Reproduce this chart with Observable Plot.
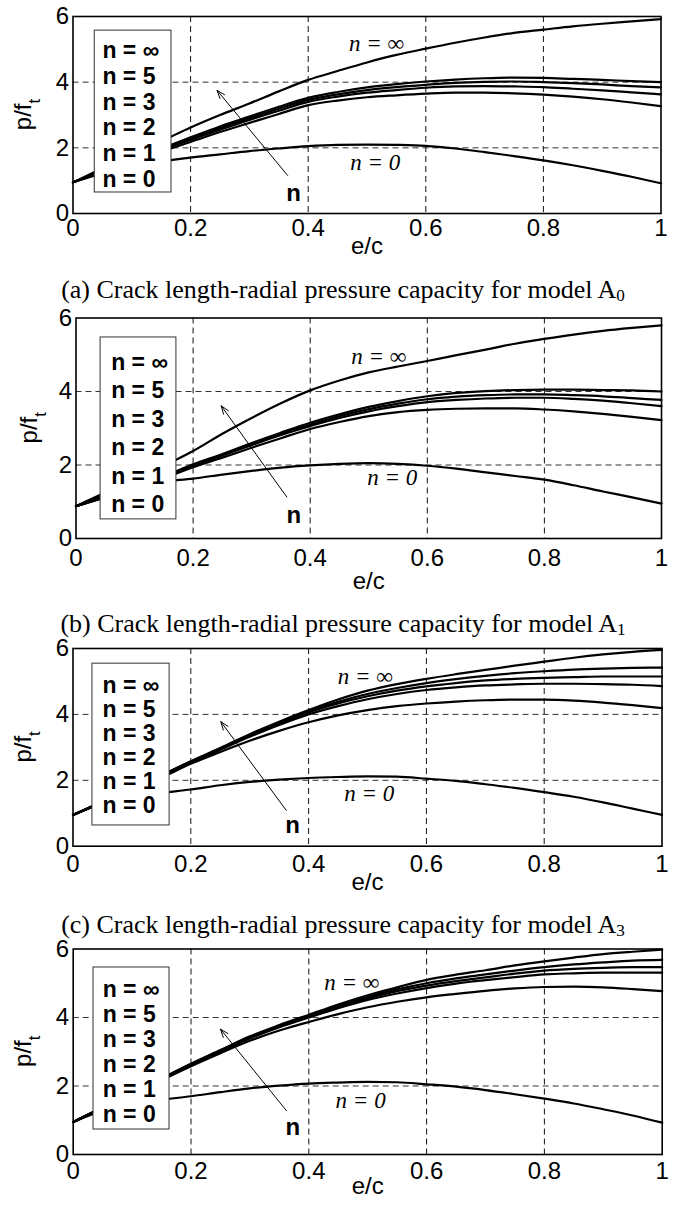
<!DOCTYPE html>
<html><head><meta charset="utf-8">
<script src="https://cdn.jsdelivr.net/npm/d3@7"></script>
<script src="https://cdn.jsdelivr.net/npm/@observablehq/plot@0.6"></script>
<style>
body{margin:0;background:#fff;}
#wrap{position:relative;width:686px;height:1215px;overflow:hidden;background:#fff;}
.panel{position:absolute;left:0;}
.cap{position:absolute;left:0;width:686px;text-align:center;font-family:"Liberation Serif","Times New Roman",serif;font-size:26px;line-height:30px;white-space:nowrap;color:#000;}
.cap sub{font-size:0.66em;vertical-align:-0.2em;line-height:0;}
</style></head><body><div id="wrap"></div>
<script>
// ---------- data ----------
const xValues = [0,0.05,0.1,0.15,0.2,0.25,0.3,0.35,0.4,0.45,0.5,0.55,0.6,0.65,0.7,0.75,0.8,0.85,0.9,0.95,1];
const seriesNames = ["n = ∞","n = 5","n = 3","n = 2","n = 1","n = 0"];

// Model A0
const A0_inf = [0.95,1.38,1.8,2.2,2.62,3.0,3.35,3.72,4.07,4.34,4.6,4.83,5.02,5.2,5.36,5.5,5.6,5.7,5.78,5.85,5.92];
const A0_n5  = [0.95,1.3,1.65,1.98,2.32,2.65,2.95,3.25,3.52,3.7,3.84,3.94,4.02,4.08,4.12,4.14,4.13,4.1,4.07,4.03,4.0];
const A0_n3  = [0.95,1.29,1.63,1.96,2.28,2.6,2.9,3.19,3.46,3.63,3.76,3.85,3.92,3.98,4.01,4.02,4.0,3.97,3.93,3.88,3.84];
const A0_n2  = [0.95,1.28,1.61,1.93,2.24,2.55,2.85,3.13,3.4,3.56,3.68,3.76,3.83,3.87,3.88,3.87,3.85,3.8,3.75,3.69,3.63];
const A0_n1  = [0.95,1.27,1.58,1.89,2.18,2.48,2.76,3.03,3.3,3.44,3.54,3.6,3.65,3.68,3.68,3.66,3.62,3.56,3.48,3.38,3.27];
const A0_n0  = [0.95,1.22,1.43,1.58,1.7,1.8,1.9,1.98,2.05,2.09,2.1,2.09,2.06,1.98,1.87,1.75,1.62,1.47,1.3,1.12,0.92];

// Model A1
const A1_inf = [0.88,1.25,1.62,1.98,2.38,2.85,3.28,3.68,4.03,4.3,4.52,4.68,4.83,4.99,5.14,5.3,5.43,5.55,5.65,5.73,5.8];
const A1_n5  = [0.88,1.15,1.42,1.7,2.02,2.3,2.6,2.88,3.15,3.38,3.58,3.74,3.87,3.96,4.01,4.04,4.05,4.05,4.04,4.03,4.0];
const A1_n3  = [0.88,1.14,1.41,1.68,2.0,2.28,2.57,2.85,3.1,3.33,3.52,3.67,3.79,3.86,3.9,3.92,3.92,3.9,3.87,3.82,3.77];
const A1_n2  = [0.88,1.13,1.4,1.67,1.98,2.26,2.54,2.82,3.06,3.28,3.46,3.6,3.71,3.77,3.81,3.83,3.83,3.8,3.75,3.68,3.6];
const A1_n1  = [0.88,1.12,1.38,1.64,1.94,2.2,2.47,2.73,2.98,3.17,3.33,3.44,3.5,3.53,3.54,3.54,3.51,3.46,3.39,3.31,3.22];
const A1_n0  = [0.88,1.2,1.42,1.55,1.63,1.74,1.84,1.93,1.99,2.03,2.05,2.03,1.98,1.9,1.8,1.7,1.6,1.45,1.28,1.12,0.95];

// Model A3
const A3_inf = [0.95,1.35,1.75,2.15,2.58,2.98,3.4,3.78,4.13,4.45,4.72,4.92,5.08,5.22,5.35,5.48,5.6,5.72,5.82,5.9,5.96];
const A3_n5  = [0.95,1.35,1.75,2.15,2.57,2.97,3.38,3.75,4.1,4.38,4.62,4.8,4.95,5.07,5.17,5.25,5.31,5.36,5.39,5.41,5.42];
const A3_n3  = [0.95,1.35,1.74,2.14,2.56,2.95,3.35,3.72,4.06,4.33,4.55,4.72,4.85,4.95,5.03,5.08,5.11,5.13,5.15,5.15,5.15];
const A3_n2  = [0.95,1.34,1.73,2.13,2.55,2.93,3.32,3.68,4.0,4.25,4.46,4.62,4.74,4.82,4.88,4.91,4.93,4.93,4.92,4.9,4.86];
const A3_n1  = [0.95,1.32,1.7,2.08,2.5,2.86,3.2,3.5,3.76,3.97,4.13,4.25,4.33,4.39,4.43,4.45,4.45,4.42,4.36,4.28,4.19];
const A3_n0  = [0.95,1.3,1.5,1.62,1.72,1.85,1.95,2.02,2.07,2.1,2.12,2.11,2.05,1.98,1.88,1.77,1.64,1.5,1.33,1.14,0.95];

// Fourth panel
const D_inf = [0.95,1.38,1.8,2.22,2.65,3.05,3.45,3.78,4.08,4.38,4.65,4.88,5.1,5.25,5.38,5.52,5.64,5.75,5.85,5.92,5.98];
const D_n5  = [0.95,1.38,1.8,2.22,2.64,3.04,3.43,3.76,4.05,4.34,4.6,4.82,5.0,5.14,5.26,5.37,5.47,5.55,5.61,5.66,5.68];
const D_n3  = [0.95,1.37,1.79,2.21,2.63,3.02,3.41,3.74,4.03,4.31,4.56,4.77,4.93,5.06,5.17,5.28,5.37,5.42,5.45,5.47,5.47];
const D_n2  = [0.95,1.37,1.78,2.2,2.62,3.01,3.39,3.72,4.0,4.27,4.51,4.7,4.86,4.99,5.09,5.18,5.26,5.29,5.31,5.31,5.31];
const D_n1  = [0.95,1.36,1.76,2.17,2.58,2.96,3.32,3.62,3.87,4.1,4.3,4.46,4.59,4.69,4.78,4.85,4.89,4.9,4.88,4.83,4.77];
const D_n0  = [0.95,1.28,1.48,1.6,1.7,1.82,1.93,2.01,2.07,2.1,2.12,2.11,2.05,1.98,1.88,1.76,1.63,1.49,1.32,1.14,0.93];

const xTicks = [0,0.2,0.4,0.6,0.8,1];
const xTickLabels = ["0","0.2","0.4","0.6","0.8","1"];
const yTicks = [0,2,4,6];
const yTickLabels = ["0","2","4","6"];
const gridX = [0.2,0.4,0.6,0.8];
const gridY = [2,4];
const legendLabels = ["n = ∞","n = 5","n = 3","n = 2","n = 1","n = 0"];
const curveLabels = ["n = ∞","n = 0"];
const arrowLabel = "n";
const xLabel = "e/c";
const yLabelMain = "p/f";
const yLabelSub = "t";
const captionTexts = ["(a) Crack length-radial pressure capacity for model A","(b) Crack length-radial pressure capacity for model A","(c) Crack length-radial pressure capacity for model A"];
const captionSubs = ["0","1","3"];

const panelSeries = [
  [A0_inf,A0_n5,A0_n3,A0_n2,A0_n1,A0_n0],
  [A1_inf,A1_n5,A1_n3,A1_n2,A1_n1,A1_n0],
  [A3_inf,A3_n5,A3_n3,A3_n2,A3_n1,A3_n0],
  [D_inf,D_n5,D_n3,D_n2,D_n1,D_n0]
];

// ---------- layout ----------
const layout = [
  {top:0, height:268, mt:16, mb:55, ml:72.5, mr:25.5, tickPad:5.5, xlabDy:40, ylabOff:42,
   box:[0.037,0.1675,5.57,0.64], legX:0.05, legTop:4.96, legStep:0.785,
   inf:[0.516,5.18], zero:[0.514,1.55], arrow:[0.365,1.16,0.245,3.75], nLab:[0.375,0.62]},
  {top:300, height:300, mt:17.5, mb:62, ml:75.5, mr:25, tickPad:10.5, xlabDy:50, ylabOff:39,
   box:[0.042,0.1715,5.47,0.52], legX:0.06, legTop:4.79, legStep:0.776,
   inf:[0.517,4.96], zero:[0.54,1.67], arrow:[0.36,1.13,0.248,3.61], nLab:[0.372,0.63]},
  {top:635, height:270, mt:13, mb:59.3, ml:72.5, mr:24.5, tickPad:8.5, xlabDy:44, ylabOff:42,
   box:[0.033,0.164,5.54,0.63], legX:0.05, legTop:4.88, legStep:0.73,
   inf:[0.496,5.15], zero:[0.503,1.59], arrow:[0.362,1.09,0.251,3.78], nLab:[0.373,0.63]},
  {top:935, height:280, mt:13.5, mb:61, ml:72.7, mr:24.3, tickPad:7.5, xlabDy:39, ylabOff:42,
   box:[0.0345,0.1635,5.46,0.73], legX:0.05, legTop:4.82, legStep:0.73,
   inf:[0.473,5.02], zero:[0.488,1.57], arrow:[0.362,1.28,0.25,3.66], nLab:[0.373,0.8]}
];
const captionCenters = [290, 624, 925];

const sans = "'Liberation Sans', Arial, Helvetica, sans-serif";
const serif = "'Liberation Serif', 'Times New Roman', serif";
const wrap = document.getElementById("wrap");

layout.forEach((L, p) => {
  const rows = [];
  panelSeries[p].forEach((vals, s) => vals.forEach((v, i) => rows.push({x: xValues[i], y: v, n: seriesNames[s]})));
  const svg = Plot.plot({
    width: 686, height: L.height,
    marginTop: L.mt, marginBottom: L.mb, marginLeft: L.ml, marginRight: L.mr,
    style: {background: "transparent", fontFamily: sans, fontSize: "24px", color: "black", overflow: "visible"},
    x: {domain: [0, 1]},
    y: {domain: [0, 6]},
    marks: [
      Plot.ruleX(gridX, {stroke: "#111", strokeWidth: 1, strokeDasharray: "6,4"}),
      Plot.ruleY(gridY, {stroke: "#333", strokeWidth: 1, strokeDasharray: "6,4"}),
      Plot.line(rows, {x: "x", y: "y", z: "n", stroke: "black", strokeWidth: 2.2, curve: "monotone-x"}),
      Plot.frame({stroke: "black", strokeWidth: 1.6}),
      Plot.axisX(xTicks, {tickSize: 0, tickPadding: L.tickPad, tickFormat: d => xTickLabels[xTicks.indexOf(d)], label: null, fontSize: 24}),
      Plot.axisY(yTicks, {tickSize: 0, tickPadding: 4, tickFormat: d => yTickLabels[yTicks.indexOf(d)], label: null, fontSize: 24}),
      Plot.text([xLabel], {frameAnchor: "bottom", dy: L.xlabDy, fontSize: 24, fontFamily: sans}),
      Plot.rect([0], {x1: () => L.box[0], x2: () => L.box[1], y1: () => L.box[2], y2: () => L.box[3], fill: "white", stroke: "#333", strokeWidth: 1}),
      Plot.text(legendLabels, {x: () => L.legX, y: (d, i) => L.legTop - i * L.legStep, textAnchor: "start", fontWeight: "bold", fontSize: 23, fontFamily: sans}),
      Plot.text([curveLabels[0]], {x: () => L.inf[0], y: () => L.inf[1], fontStyle: "italic", fontSize: 23, fontFamily: serif}),
      Plot.text([curveLabels[1]], {x: () => L.zero[0], y: () => L.zero[1], fontStyle: "italic", fontSize: 23, fontFamily: serif}),
      Plot.arrow([0], {x1: () => L.arrow[0], y1: () => L.arrow[1], x2: () => L.arrow[2], y2: () => L.arrow[3], stroke: "black", strokeWidth: 1, headLength: 13, headAngle: 40}),
      Plot.text([arrowLabel], {x: () => L.nLab[0], y: () => L.nLab[1], fontWeight: "bold", fontSize: 24, fontFamily: sans})
    ]
  });
  svg.classList.add("panel");
  svg.style.position = "absolute";
  svg.style.top = L.top + "px";
  svg.style.left = "0px";
  // y label with subscript
  const cy = L.mt + (L.height - L.mt - L.mb) / 2;
  const t = d3.select(svg).append("text")
    .attr("transform", `translate(${L.ml - L.ylabOff},${cy}) rotate(-90)`)
    .attr("text-anchor", "middle")
    .attr("font-family", sans)
    .attr("font-size", 24)
    .attr("fill", "black");
  t.append("tspan").text(yLabelMain);
  t.append("tspan").attr("dy", 9).attr("font-size", 17).text(yLabelSub);
  wrap.appendChild(svg);
});

captionTexts.forEach((txt, i) => {
  const div = document.createElement("div");
  div.className = "cap";
  div.style.top = (captionCenters[i] - 15) + "px";
  div.append(txt);
  const sub = document.createElement("sub");
  sub.textContent = captionSubs[i];
  div.appendChild(sub);
  wrap.appendChild(div);
});
</script></body></html>
